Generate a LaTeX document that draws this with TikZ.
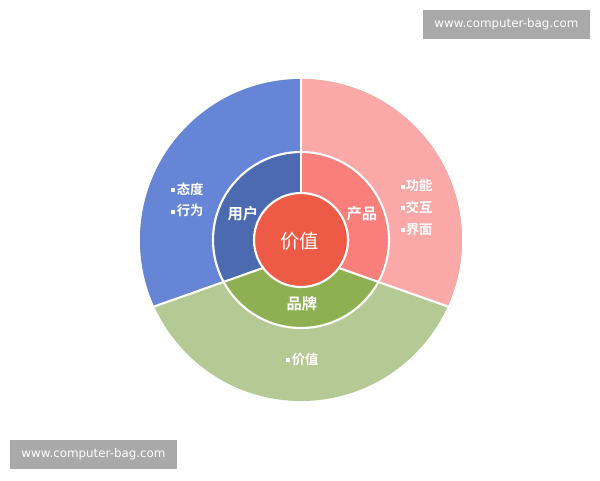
\documentclass[tikz,border=0pt]{standalone}
\usepackage{fontspec}
\usepackage{tikz}
\usepackage{xcolor}
\usetikzlibrary{calc,positioning}
\setmainfont{Noto Sans CJK SC}[BoldFont={Noto Sans CJK SC Bold}]
\newfontfamily\wmfont{DejaVu Sans}

\definecolor{outblue}{RGB}{102,133,214}
\definecolor{outpink}{RGB}{250,168,168}
\definecolor{outgreen}{RGB}{181,201,148}
\definecolor{midblue}{RGB}{76,106,176}
\definecolor{midpink}{RGB}{249,127,125}
\definecolor{midgreen}{RGB}{142,176,82}
\definecolor{corered}{RGB}{237,91,70}
\definecolor{wmgray}{RGB}{169,169,169}

\newcommand{\bul}{\raisebox{0.3ex}{\rule{3pt}{3pt}}\hspace{1pt}}

\tikzset{
    sepline/.style={white, line width=1.6pt},
    ringlabel/.style={white, font=\bfseries\fontsize{11.5}{12}\selectfont, inner sep=0pt},
    itemlabel/.style={white, font=\bfseries\fontsize{10}{16.3}\selectfont, align=left, inner sep=0pt},
    wmbox/.style={fill=wmgray, text=white, font=\wmfont\fontsize{8.9}{10}\selectfont,
        minimum width=125.25pt, minimum height=21.75pt, inner sep=0pt}
}

\begin{document}
\begin{tikzpicture}[x=0.75pt, y=0.75pt]
                        \useasboundingbox[fill=white] (-301, 240) rectangle (299, -240);
                        \coordinate (V) at (0, -14.5);
                        % outer ring
                        \begin{scope}
                            \clip (0, 0) circle (161);
                            \fill[outgreen] (-170, -170) rectangle (170, 170);
                            \fill[outblue] (V) -- ++(199.5:300) -- (-300, 300) -- (0, 300) -- cycle;
                            \fill[outpink] (V) -- ++(-19.5:300) -- (300, 300) -- (0, 300) -- cycle;
                        \end{scope}
                        % middle ring
                        \begin{scope}
                            \clip (0, 0) circle (88);
                            \fill[midgreen] (-90, -90) rectangle (90, 90);
                            \fill[midblue] (V) -- ++(199.5:300) -- (-300, 300) -- (0, 300) -- cycle;
                            \fill[midpink] (V) -- ++(-19.5:300) -- (300, 300) -- (0, 300) -- cycle;
                        \end{scope}
                        \draw[sepline] (0, 161) -- (V);
                        \draw[sepline] (V) -- ++(199.5:155.6);
                        \draw[sepline] (V) -- ++(-19.5:155.6);
                        \draw[sepline] (0, 0) circle (88);
                        \filldraw[corered, draw=white, line width=1.6pt] (0, 0) circle (47);
                        \node[white, font=\fontsize{14.5}{15}\selectfont, inner sep=0pt] (val) at (-1, -1) {价值};
                        \node[ringlabel] (user) at (-58, 26.5) {用户};
                        \node[ringlabel] (prod) at (61, 26.5) {产品};
                        \node[ringlabel] (brand) at (1, -63.5) {品牌};
                        \node[itemlabel] (useritems) at (-113.5, 40) {\bul 态度\\\bul 行为};
                        \node[itemlabel] (proditems) at (115.5, 32.5) {\bul 功能\\\bul 交互\\\bul 界面};
                        \node[itemlabel] (branditems) at (1.5, -119) {\bul 价值};
                        \node[wmbox] (wmtop) at (205.5, 215.5) {www.computer-bag.com};
                        \node[wmbox] (wmbottom) at (-207.5, -214.5) {www.computer-bag.com};
                    \end{tikzpicture}
\end{document}
